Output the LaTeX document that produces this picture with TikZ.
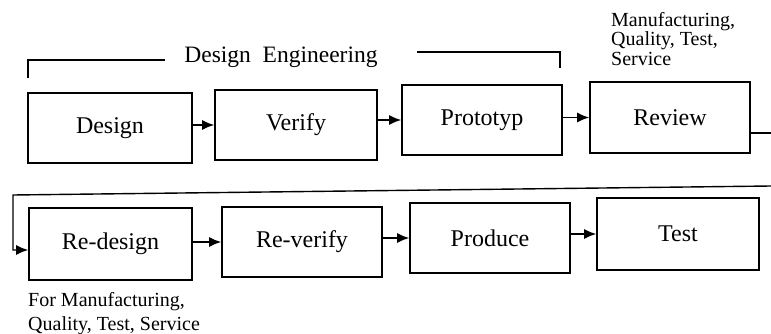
\documentclass[tikz,border=0pt]{standalone}
\usepackage{fontspec}
\setmainfont{Liberation Serif}
\usetikzlibrary{arrows.meta,calc}
\begin{document}
\begin{tikzpicture}[x=1pt,y=-1pt,
  stagebox/.style={draw,line width=1.6pt,minimum width=160pt,minimum height=70pt,inner sep=0pt,font=\fontsize{24}{28}\selectfont},
  arr/.style={line width=1.4pt,-{Latex[length=12pt,width=10pt]}},
  plain/.style={line width=1.5pt},
  note/.style={align=left,inner sep=0pt,anchor=north west}]
\useasboundingbox (0,0) rectangle (771,334);
% row 1
\node[stagebox,minimum width=164pt] (design) at (110,128) {Design};
\node[stagebox,minimum width=162pt] (verify) at (296,125) {Verify};
\node[stagebox] (proto) at (482,120) {Prototyp};
\node[stagebox,minimum height=71pt] (review) at (670,117.5) {Review};
% row 2
\node[stagebox,minimum width=163pt,minimum height=72pt] (redesign) at (110.5,244) {Re-design};
\node[stagebox] (reverify) at (302,242) {Re-verify};
\node[stagebox] (produce) at (490,238) {Produce};
\node[stagebox,minimum width=162pt,minimum height=72pt] (test) at (678,234) {Test};
% bracket
\coordinate (bl) at (28,78);
\coordinate (br) at (560,68);
\node[font=\fontsize{23.5}{26}\selectfont] (de) at (281,57) {Design\ \ Engineering};
\draw[plain] (bl) -- (28,60) -- (165,60);
\draw[plain] (417,52) -- (560,52) -- (br);
% notes
\node[note,font=\fontsize{20}{19.5}\selectfont] (mq) at (611,12) {Manufacturing,\\Quality, Test,\\Service};
\node[note,font=\fontsize{20}{24}\selectfont] (fm) at (28,292) {For Manufacturing,\\Quality, Test, Service};
% arrows row 1
\draw[arr] (verify.west -| design.east) -- (verify.west);
\draw[arr] (proto.west -| verify.east) -- (proto.west);
\draw[arr] (review.west -| proto.east) -- (review.west);
% return path
\coordinate (rv) at (771,133);
\coordinate (rt) at (771,186);
\coordinate (lt) at (13,195);
\draw[plain] (review.east |- rv) -- (rv);
\draw[arr] (rt) -- (lt) |- (redesign.west |- 0,250);
% arrows row 2
\draw[arr] (reverify.west -| redesign.east) -- (reverify.west);
\draw[arr] (produce.west -| reverify.east) -- (produce.west);
\draw[arr] (test.west -| produce.east) -- (test.west);
\end{tikzpicture}
\end{document}
